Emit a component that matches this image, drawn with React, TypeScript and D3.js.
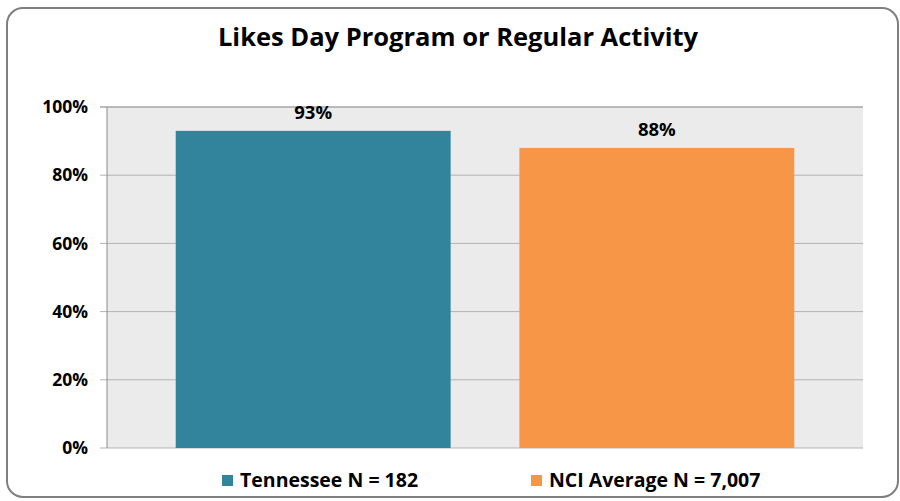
import React from "react";
import * as d3 from "d3";

const categories = ["Tennessee N = 182", "NCI Average N = 7,007"];
const values = [0.93, 0.88];
const valueLabels = ["93%", "88%"];
const colors = ["#31849b", "#f79646"];
const yTicks = [0, 0.2, 0.4, 0.6, 0.8, 1.0];

const W = 900;
const H = 501;
const plot = { left: 107, right: 863, top: 107, bottom: 448 };
const font = "'Open Sans', 'DejaVu Sans', sans-serif";

export default function App() {
  const x = d3
    .scaleBand<string>()
    .domain(categories)
    .range([plot.left, plot.right])
    .padding(0.2);
  const y = d3.scaleLinear().domain([0, 1]).range([plot.bottom, plot.top]);
  const fmt = d3.format(".0%");

  return (
    <svg
      width={W}
      height={H}
      style={{ position: "absolute", left: 0, top: 0, fontFamily: font }}
    >
      <rect width={W} height={H} fill="#fff" />
      <rect
        x={7}
        y={8}
        width={891}
        height={489}
        rx={16}
        fill="#fff"
        stroke="#7f7f7f"
        strokeWidth={2}
      />
      <text
        x={458}
        y={46}
        textAnchor="middle"
        fontSize={25.5}
        fontWeight="bold"
        fill="#000"
      >
        Likes Day Program or Regular Activity
      </text>

      <rect
        x={plot.left}
        y={plot.top}
        width={plot.right - plot.left}
        height={plot.bottom - plot.top}
        fill="#ebebeb"
      />
      {yTicks.map((t) => (
        <g key={t}>
          <line
            x1={plot.left - 7}
            x2={plot.right}
            y1={y(t)}
            y2={y(t)}
            stroke={t === 1 ? "#a6a6a6" : "#b3b3b3"}
            strokeWidth={t === 1 ? 1.5 : 1}
          />
          <text
            x={88}
            y={y(t)}
            dy="0.35em"
            textAnchor="end"
            fontSize={17.5}
            fontWeight="bold"
            fill="#000"
          >
            {fmt(t)}
          </text>
        </g>
      ))}
      <line
        x1={plot.left}
        x2={plot.left}
        y1={plot.top}
        y2={plot.bottom}
        stroke="#8c8c8c"
        strokeWidth={1}
      />

      {categories.map((c, i) => (
        <g key={c}>
          <rect
            x={x(c)}
            y={y(values[i])}
            width={x.bandwidth()}
            height={plot.bottom - y(values[i])}
            fill={colors[i]}
          />
          <text
            x={(x(c) as number) + x.bandwidth() / 2}
            y={y(values[i]) - 12}
            textAnchor="middle"
            fontSize={18.5}
            fontWeight="bold"
            fill="#000"
          >
            {valueLabels[i]}
          </text>
        </g>
      ))}

      {categories.map((c, i) => {
        const lx = [222, 531][i];
        return (
          <g key={"lg" + c}>
            <rect x={lx} y={475} width={11} height={11} fill={colors[i]} />
            <text
              x={lx + 18}
              y={480}
              dy="0.35em"
              fontSize={19.5}
              fontWeight="bold"
              fill="#000"
            >
              {c}
            </text>
          </g>
        );
      })}
    </svg>
  );
}
